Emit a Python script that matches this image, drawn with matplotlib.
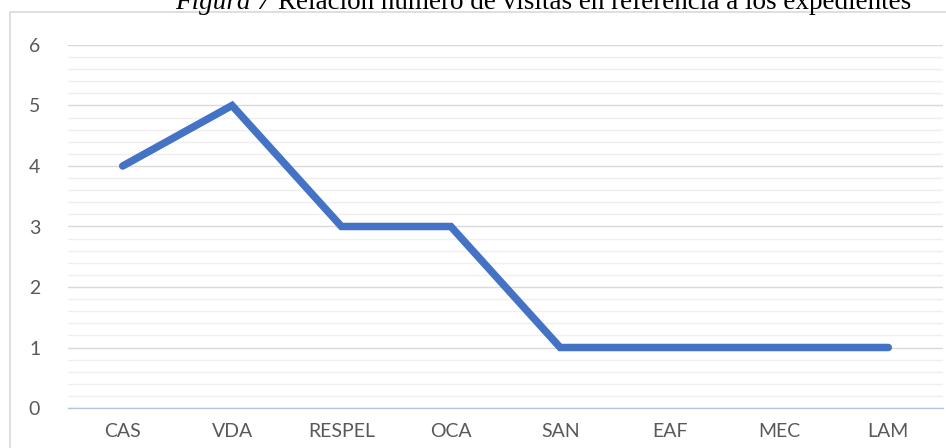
import matplotlib.pyplot as plt
from matplotlib.patches import Rectangle
from matplotlib.ticker import MultipleLocator

categories = ["CAS", "VDA", "RESPEL", "OCA", "SAN", "EAF", "MEC", "LAM"]
visits = [4, 5, 3, 3, 1, 1, 1, 1]
yticks = [0, 1, 2, 3, 4, 5, 6]

W, H = 946, 448
fig = plt.figure(figsize=(W / 100, H / 100), dpi=100)

# chart frame (cropped on the right and bottom)
fig.patches.append(Rectangle((10 / W, -0.1), 1.2, (H - 12) / H + 0.1,
                             transform=fig.transFigure, fill=False,
                             edgecolor="#d9d9d9", linewidth=1.2))

ax = fig.add_axes([68 / W, 40 / H, 875 / W, 363 / H])
x = list(range(len(categories)))
ax.plot(x, visits, color="#4472C4", linewidth=5.4,
        solid_capstyle="round", solid_joinstyle="miter", zorder=3)

ax.set_xlim(-0.5, len(categories) - 0.5)
ax.set_ylim(0, 6)
ax.set_yticks(yticks)
ax.yaxis.set_minor_locator(MultipleLocator(0.2))
ax.set_xticks(x)
ax.set_xticklabels(categories)

ax.grid(which="major", axis="y", color="#d9d9d9", linewidth=1.0)
ax.grid(which="minor", axis="y", color="#efefef", linewidth=1.0)
ax.set_axisbelow(True)
for s in ["top", "right", "left"]:
    ax.spines[s].set_visible(False)
ax.spines["bottom"].set_color("#b4c3de")
ax.spines["bottom"].set_linewidth(1.0)

ax.tick_params(axis="both", which="both", length=0, labelcolor="#595959",
               labelsize=14)
ax.tick_params(axis="y", pad=20)
ax.tick_params(axis="x", pad=11)
for lab in ax.get_xticklabels() + ax.get_yticklabels():
    lab.set_fontfamily(["Lato", "DejaVu Sans"])

# caption above the chart, partly cut off
ty = 1 - 9 / H
t1 = fig.text(175 / W, ty, "Figura 7 ", fontstyle="italic",
              family="Liberation Serif", fontsize=19.5, va="baseline", ha="left")
fig.canvas.draw()
bb = t1.get_window_extent()
fig.text(bb.x1 / W, ty, "Relación número de visitas en referencia a los expedientes",
         family="Liberation Serif", fontsize=19.5, va="baseline", ha="left")

fig.savefig("out.png", dpi=100)
